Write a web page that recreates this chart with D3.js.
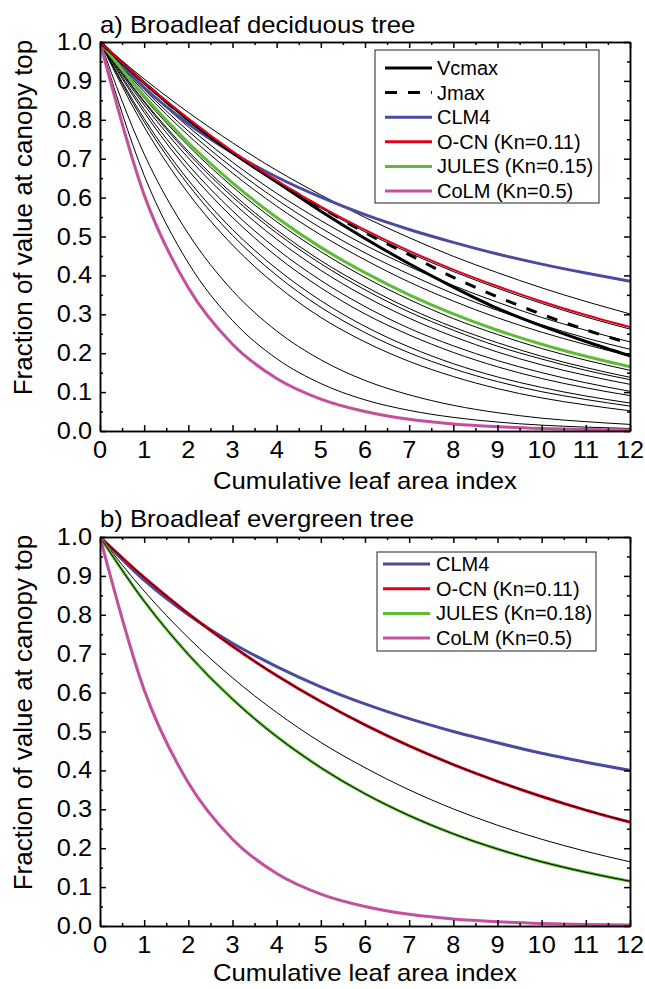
<!DOCTYPE html>
<html><head><meta charset="utf-8">
<script src="https://cdn.jsdelivr.net/npm/d3@7"></script>
<style>
body{margin:0;background:#fff}
svg{display:block}
text{font-family:"Liberation Sans",Arial,Helvetica,sans-serif;fill:#000}
</style>
</head><body>
<svg id="c" width="645" height="989"></svg>
<script>
// ---------- data ----------
const lai = [0,1,2,3,4,5,6,7,8,9,10,11,12];
const xTickLabels = [0,1,2,3,4,5,6,7,8,9,10,11,12];
const yTickLabels = [0,0.1,0.2,0.3,0.4,0.5,0.6,0.7,0.8,0.9,1.0];

// panel a: Broadleaf deciduous tree
const vcmaxA = [1,0.895,0.800,0.715,0.640,0.565,0.495,0.430,0.370,0.315,0.270,0.230,0.193];
const jmaxA  = [1,0.895,0.800,0.716,0.642,0.575,0.510,0.453,0.395,0.345,0.300,0.260,0.225];
const clm4A  = [1,0.883,0.790,0.715,0.653,0.601,0.556,0.518,0.485,0.455,0.429,0.406,0.385];
const ocnA   = [1,0.896,0.803,0.719,0.644,0.577,0.517,0.463,0.415,0.372,0.333,0.298,0.267];
const julesA = [1,0.861,0.741,0.638,0.549,0.472,0.407,0.350,0.301,0.259,0.223,0.192,0.165];
const colmA  = [1,0.607,0.368,0.223,0.135,0.082,0.050,0.030,0.018,0.011,0.0067,0.0041,0.0025];
const siteProfilesA = [
  [1,0.905,0.819,0.741,0.670,0.607,0.549,0.497,0.449,0.407,0.368,0.333,0.301],
  [1,0.8945,0.800,0.716,0.640,0.573,0.512,0.458,0.410,0.367,0.328,0.293,0.262],
  [1,0.884,0.782,0.691,0.611,0.541,0.478,0.423,0.374,0.331,0.292,0.259,0.229],
  [1,0.878,0.771,0.677,0.595,0.522,0.458,0.403,0.353,0.310,0.273,0.239,0.210],
  [1,0.872,0.760,0.663,0.578,0.504,0.440,0.383,0.334,0.291,0.254,0.222,0.193],
  [1,0.856,0.733,0.628,0.538,0.461,0.395,0.338,0.289,0.248,0.212,0.182,0.156],
  [1,0.848,0.719,0.610,0.517,0.438,0.372,0.315,0.267,0.227,0.192,0.163,0.138],
  [1,0.845,0.713,0.602,0.509,0.430,0.363,0.306,0.259,0.218,0.185,0.156,0.132],
  [1,0.838,0.702,0.588,0.493,0.413,0.346,0.290,0.243,0.203,0.170,0.143,0.120],
  [1,0.827,0.684,0.566,0.468,0.387,0.320,0.264,0.219,0.181,0.150,0.124,0.102],
  [1,0.819,0.670,0.549,0.449,0.368,0.301,0.247,0.202,0.165,0.135,0.111,0.091],
  [1,0.803,0.645,0.518,0.417,0.335,0.269,0.216,0.173,0.139,0.112,0.090,0.072],
  [1,0.795,0.633,0.503,0.400,0.318,0.253,0.201,0.160,0.127,0.101,0.081,0.064],
  [1,0.782,0.611,0.478,0.374,0.292,0.229,0.179,0.140,0.109,0.085,0.067,0.052],
  [1,0.712,0.507,0.361,0.257,0.183,0.130,0.093,0.066,0.047,0.033,0.024,0.017],
  [1,0.657,0.432,0.284,0.186,0.122,0.080,0.053,0.035,0.023,0.015,0.010,0.0065]
];

// panel b: Broadleaf evergreen tree
const clm4B  = [1,0.889,0.800,0.727,0.667,0.615,0.571,0.533,0.500,0.471,0.444,0.421,0.400];
const ocnB   = [1,0.896,0.803,0.719,0.644,0.577,0.517,0.463,0.415,0.372,0.333,0.298,0.267];
const julesB = [1,0.835,0.698,0.583,0.487,0.407,0.340,0.284,0.237,0.198,0.165,0.138,0.115];
const colmB  = [1,0.607,0.368,0.223,0.135,0.082,0.050,0.030,0.018,0.011,0.0067,0.0041,0.0025];
const siteProfileB = [1,0.861,0.741,0.638,0.549,0.472,0.407,0.350,0.301,0.259,0.223,0.192,0.165];

const legendA = ["Vcmax","Jmax","CLM4","O-CN (Kn=0.11)","JULES (Kn=0.15)","CoLM (Kn=0.5)"];
const legendB = ["CLM4","O-CN (Kn=0.11)","JULES (Kn=0.18)","CoLM (Kn=0.5)"];

// ---------- styles ----------
const C = {blue:"#4a4aa0", red:"#e2001a", green:"#5cbd34", pink:"#c3509e", black:"#000"};

const svg = d3.select("#c");
const X0 = 100, X1 = 630;

function panel(o) {
  const x = d3.scaleLinear([0,12],[X0,X1]);
  const y = d3.scaleLinear([0,1],[o.bottom,o.top]);
  const g = svg.append("g");
  const line = d3.line().x((d,i)=>x(lai[i])).y(d=>y(d)).curve(d3.curveMonotoneX);
  const clipId = "clip"+o.id;
  svg.append("clipPath").attr("id",clipId).append("rect")
    .attr("x",X0).attr("y",o.top-2).attr("width",X1-X0).attr("height",o.bottom-o.top+2);
  const plot = g.append("g").attr("clip-path",`url(#${clipId})`);
  o.lines.forEach(s=>{
    plot.append("path").attr("d",line(s.data)).attr("fill","none")
      .attr("stroke",s.color).attr("stroke-width",s.w)
      .attr("stroke-dasharray",s.dash||null).attr("stroke-linejoin","round");
  });

  // axes
  const xMinor = d3.range(0.5,12,1);
  const yMinor = d3.range(0.05,1,0.1);
  const axStyle = sel => { sel.selectAll("path,line").attr("stroke","#000").attr("stroke-width",1.5); sel.selectAll("text").remove(); };
  g.append("g").attr("transform",`translate(0,${o.bottom})`)
    .call(d3.axisBottom(x).tickValues(xTickLabels).tickSize(-6).tickSizeOuter(0)).call(axStyle);
  g.append("g").attr("transform",`translate(0,${o.bottom})`)
    .call(d3.axisBottom(x).tickValues(xMinor).tickSize(-3).tickSizeOuter(0)).call(axStyle);
  g.append("g").attr("transform",`translate(0,${o.top})`)
    .call(d3.axisTop(x).tickValues(xTickLabels).tickSize(-6).tickSizeOuter(0)).call(axStyle);
  g.append("g").attr("transform",`translate(0,${o.top})`)
    .call(d3.axisTop(x).tickValues(xMinor).tickSize(-3).tickSizeOuter(0)).call(axStyle);
  g.append("g").attr("transform",`translate(${X0},0)`)
    .call(d3.axisLeft(y).tickValues(yTickLabels).tickSize(-6).tickSizeOuter(0)).call(axStyle);
  g.append("g").attr("transform",`translate(${X0},0)`)
    .call(d3.axisLeft(y).tickValues(yMinor).tickSize(-3).tickSizeOuter(0)).call(axStyle);
  g.append("g").attr("transform",`translate(${X1},0)`)
    .call(d3.axisRight(y).tickValues(yTickLabels).tickSize(-6).tickSizeOuter(0)).call(axStyle);
  g.append("g").attr("transform",`translate(${X1},0)`)
    .call(d3.axisRight(y).tickValues(yMinor).tickSize(-3).tickSizeOuter(0)).call(axStyle);

  // tick labels
  g.selectAll(".xl").data(xTickLabels).join("text")
    .attr("transform",d=>`translate(${x(d)},${o.bottom+27}) scale(1.1,1)`)
    .attr("text-anchor","middle").attr("font-size",23).text(d=>d);
  g.selectAll(".yl").data(yTickLabels).join("text")
    .attr("transform",d=>`translate(${X0-8},${y(d)+8}) scale(1.1,1)`)
    .attr("text-anchor","end").attr("font-size",23).text(d=>d3.format(".1f")(d));

  // titles
  g.append("text").attr("transform",`translate(${X0},${o.titleY}) scale(1.07,1)`)
    .attr("font-size",24).text(o.title);
  g.append("text").attr("transform",`translate(${(X0+X1)/2},${o.bottom+o.xtOff}) scale(1.07,1)`)
    .attr("text-anchor","middle").attr("font-size",24).text("Cumulative leaf area index");
  g.append("text").attr("transform",`translate(32,${(o.top+o.bottom)/2-19}) rotate(-90)`)
    .attr("text-anchor","middle").attr("font-size",26).text("Fraction of value at canopy top");

  // legend
  const L = o.legend;
  g.append("rect").attr("x",L.x0).attr("y",L.y0).attr("width",L.x1-L.x0).attr("height",L.y1-L.y0)
    .attr("fill","#fff").attr("stroke","#222").attr("stroke-width",1);
  L.items.forEach((it,i)=>{
    const yy = L.row0 + i*L.dy;
    g.append("line").attr("x1",L.lx0).attr("x2",L.lx1).attr("y1",yy).attr("y2",yy)
      .attr("stroke",it.color).attr("stroke-width",3).attr("stroke-dasharray",it.dash||null);
    g.append("text").attr("x",L.tx).attr("y",yy+7).attr("font-size",20).text(it.label);
  });
}

const thinA = siteProfilesA.map(d=>({data:d,color:C.black,w:1}));
panel({
  id:"a", top:42, bottom:431, titleY:33, xtOff:58, title:"a) Broadleaf deciduous tree",
  lines:[
    ...thinA,
    {data:clm4A,color:C.blue,w:3},
    {data:julesA,color:C.green,w:3},
    {data:colmA,color:C.pink,w:3},
    {data:vcmaxA,color:C.black,w:3},
    {data:jmaxA,color:C.black,w:3,dash:"11,11"},
    {data:ocnA,color:C.red,w:2}
  ],
  legend:{x0:375,x1:599,y0:50,y1:203,row0:68,dy:24.6,lx0:385,lx1:432,tx:437,
    items:[
      {label:legendA[0],color:C.black},
      {label:legendA[1],color:C.black,dash:"12,11"},
      {label:legendA[2],color:C.blue},
      {label:legendA[3],color:C.red},
      {label:legendA[4],color:C.green},
      {label:legendA[5],color:C.pink}
    ]}
});

panel({
  id:"b", top:537, bottom:926, titleY:527, xtOff:55, title:"b) Broadleaf evergreen tree",
  lines:[
    {data:siteProfileB,color:C.black,w:1},
    {data:clm4B,color:C.blue,w:3},
    {data:ocnB,color:C.red,w:3},
    {data:ocnB,color:C.black,w:1},
    {data:julesB,color:C.green,w:3},
    {data:julesB,color:C.black,w:1},
    {data:colmB,color:C.pink,w:3}
  ],
  legend:{x0:377,x1:596,y0:552,y1:651,row0:564,dy:24.7,lx0:383,lx1:430,tx:436,
    items:[
      {label:legendB[0],color:C.blue},
      {label:legendB[1],color:C.red},
      {label:legendB[2],color:C.green},
      {label:legendB[3],color:C.pink}
    ]}
});
</script>
</body></html>
